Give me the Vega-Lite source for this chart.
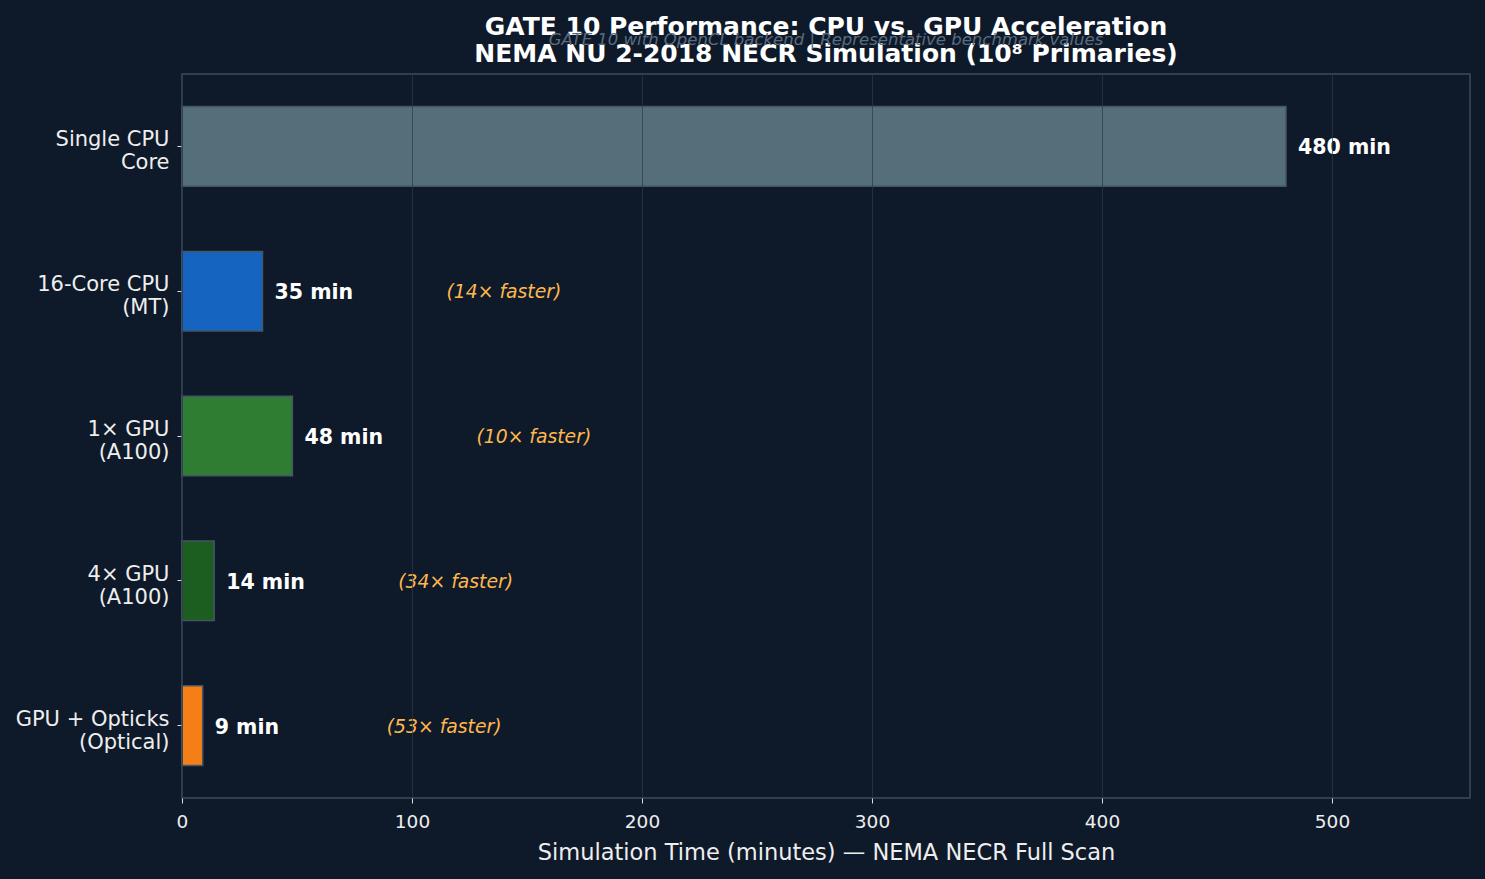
{
  "$schema": "https://vega.github.io/schema/vega-lite/v6.json",
  "width": 1288,
  "height": 724,
  "autosize": {"type": "none"},
  "padding": {"left": 182, "top": 74, "right": 15, "bottom": 81},
  "background": "#0e1a2a",
  "title": {
    "text": ["GATE 10 Performance: CPU vs. GPU Acceleration", "NEMA NU 2-2018 NECR Simulation (10⁸ Primaries)"],
    "subtitle": "GATE 10 with OpenCL backend | Representative benchmark values",
    "anchor": "middle",
    "frame": "group",
    "font": "DejaVu Sans",
    "fontSize": 25,
    "fontWeight": "bold",
    "color": "white",
    "lineHeight": 27,
    "subtitleFont": "DejaVu Sans",
    "subtitleFontSize": 16.5,
    "subtitleFontStyle": "italic",
    "subtitleColor": "#5b6b7e",
    "subtitlePadding": -35,
    "offset": 7
  },
  "data": {
    "values": [
      {"config": "Single CPU\nCore", "minutes": 480, "speedup": null},
      {"config": "16-Core CPU\n(MT)", "minutes": 35, "speedup": "(14× faster)"},
      {"config": "1× GPU\n(A100)", "minutes": 48, "speedup": "(10× faster)"},
      {"config": "4× GPU\n(A100)", "minutes": 14, "speedup": "(34× faster)"},
      {"config": "GPU + Opticks\n(Optical)", "minutes": 9, "speedup": "(53× faster)"}
    ]
  },
  "config": {
    "view": {"stroke": "#3d4b5c", "strokeWidth": 1.5},
    "font": "DejaVu Sans"
  },
  "encoding": {
    "y": {
      "field": "config",
      "type": "nominal",
      "sort": null,
      "scale": {"paddingInner": 0.45, "paddingOuter": 0.225},
      "axis": {
        "title": null,
        "labelExpr": "split(datum.label, '\\n')",
        "labelFont": "DejaVu Sans",
        "labelFontSize": 21,
        "labelColor": "#eeeeee",
        "labelLineHeight": 23,
        "labelPadding": 8,
        "labelOffset": -6,
        "tickColor": "#dddddd",
        "tickSize": 5,
        "domain": false,
        "grid": false
      }
    },
    "x": {
      "field": "minutes",
      "type": "quantitative",
      "scale": {"domain": [0, 560], "nice": false},
      "axis": {
        "title": "Simulation Time (minutes) — NEMA NECR Full Scan",
        "titleFont": "DejaVu Sans",
        "titleFontSize": 22.5,
        "titleFontWeight": "normal",
        "titleColor": "#eeeeee",
        "titlePadding": 11,
        "values": [0, 100, 200, 300, 400, 500],
        "labelFont": "DejaVu Sans",
        "labelFontSize": 18.5,
        "labelColor": "#eeeeee",
        "labelPadding": 9,
        "labelFlush": false,
        "tickColor": "#dddddd",
        "tickSize": 5,
        "domain": false,
        "grid": true,
        "gridColor": "#2a3a4b",
        "gridOpacity": 0.7,
        "zindex": 1
      }
    }
  },
  "layer": [
    {
      "mark": {"type": "bar", "stroke": "#455466", "strokeWidth": 1.5},
      "encoding": {
        "color": {
          "field": "config",
          "type": "nominal",
          "legend": null,
          "scale": {
            "domain": ["Single CPU\nCore", "16-Core CPU\n(MT)", "1× GPU\n(A100)", "4× GPU\n(A100)", "GPU + Opticks\n(Optical)"],
            "range": ["#546e7a", "#1565c0", "#2e7d32", "#1b5e20", "#f57f17"]
          }
        }
      }
    },
    {
      "mark": {"type": "text", "align": "left", "baseline": "middle", "dx": 12, "dy": 2, "fontSize": 20.5, "fontWeight": "bold", "color": "white", "text": {"expr": "datum.minutes + ' min'"}},
      "encoding": {}
    },
    {
      "transform": [{"filter": "datum.speedup != null"}],
      "mark": {"type": "text", "align": "left", "baseline": "middle", "dx": 184, "dy": 1, "fontSize": 18.8, "fontStyle": "italic", "color": "#ffb74d"},
      "encoding": {"text": {"field": "speedup"}}
    }
  ]
}
